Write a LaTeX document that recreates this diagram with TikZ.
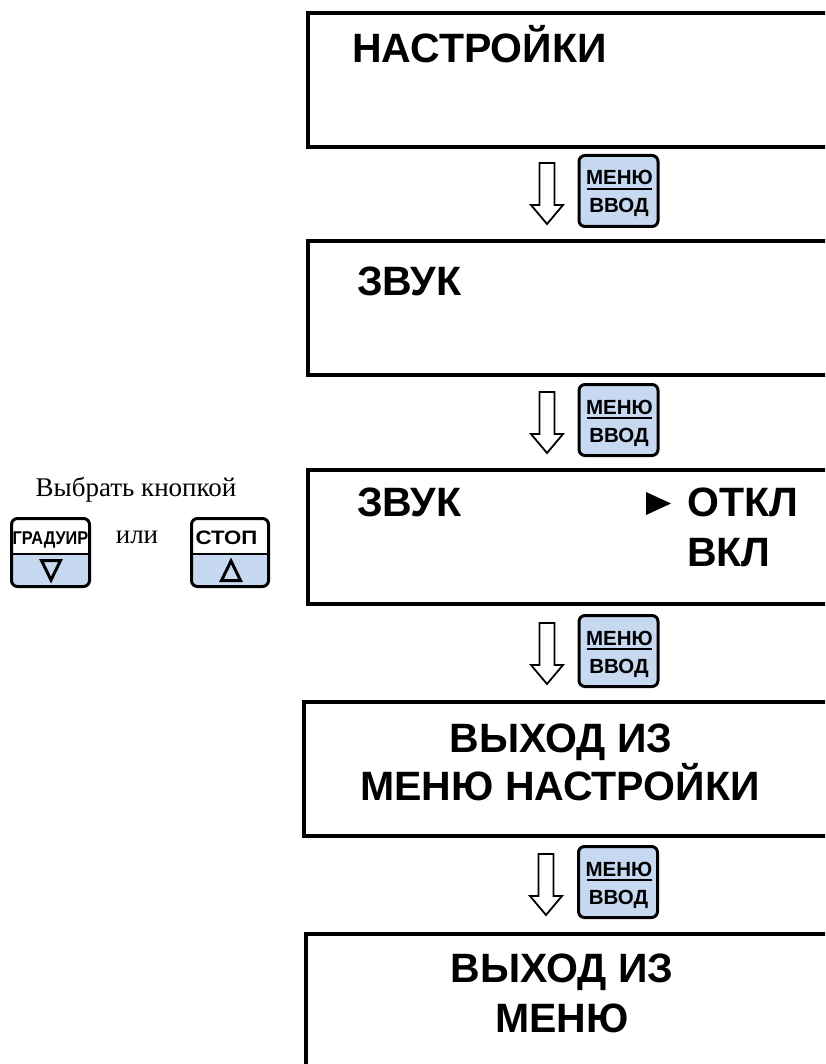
\documentclass[tikz,border=0pt]{standalone}
\usepackage{fontspec}
\setmainfont{Liberation Serif}
\setsansfont{Liberation Sans}
\definecolor{keyblue}{RGB}{198,217,241}
\tikzset{
  screen/.style={draw=black, line width=4pt, fill=white, anchor=north west, minimum width=560pt, inner sep=0pt},
  bigtext/.style={font=\fontsize{41}{48}\selectfont\sffamily\bfseries, inner sep=0pt},
  serif/.style={font=\fontsize{27}{32}\selectfont\rmfamily, inner sep=0pt},
  keytext/.style={font=\fontsize{20.5}{24}\selectfont\sffamily\bfseries, inner sep=0pt},
  smallkeytext/.style={font=\fontsize{18.5}{22}\selectfont\sffamily\bfseries, inner sep=0pt},
  keyframe/.style={draw=black, line width=3pt, rounded corners=6pt},
  hollow/.style={draw=black, line width=1.8pt, fill=white, line join=miter},
  menukey/.pic={
    \node[keyframe, fill=keyblue, minimum width=79pt, minimum height=71pt, inner sep=0pt] (-k) at (0,0) {};
    \node[keytext, anchor=base] (-a) at (1,-6) {МЕНЮ};
    \draw[line width=2.5pt] (-31.5,-2) -- (33.5,-2);
    \node[keytext, anchor=base] (-b) at (0.5,22) {ВВОД};
  },
  downarrow/.pic={
    \draw[hollow] (-7.5,0) -- (7.5,0) -- (7.5,42) -- (16,42) -- (0,61) -- (-16,42) -- (-7.5,42) -- cycle;
  }
}
\begin{document}
\begin{tikzpicture}[x=1pt,y=-1pt]
\clip (0,0) rectangle (825,1064);
\fill[white] (0,0) rectangle (825,1064);

% screens
\node[screen, minimum height=134pt] (s1) at (306,11) {};
\node[screen, minimum height=134pt] (s2) at (306,239) {};
\node[screen, minimum height=134pt] (s3) at (306,468) {};
\node[screen, minimum height=134pt] (s4) at (302,700) {};
\node[screen, minimum height=160pt] (s5) at (304,932) {};

% screen texts
\node[bigtext, anchor=base west] (t1) at (352,63) {НАСТРОЙКИ};
\node[bigtext, anchor=base west] (t2) at (357,295) {ЗВУК};
\node[bigtext, anchor=base west] (t3) at (357,516) {ЗВУК};
\fill (646,492) -- (671,503.5) -- (646,515) -- cycle;
\node[bigtext, anchor=base west] (t3b) at (687,516) {ОТКЛ};
\node[bigtext, anchor=base west] (t3c) at (687,566) {ВКЛ};
\node[bigtext, anchor=base] (t4a) at (561,752) {ВЫХОД ИЗ};
\node[bigtext, anchor=base] (t4b) at (560,800) {МЕНЮ НАСТРОЙКИ};
\node[bigtext, anchor=base] (t5a) at (562,982) {ВЫХОД ИЗ};
\node[bigtext, anchor=base] (t5b) at (562,1032) {МЕНЮ};

% transitions
\pic (a1) at (547,163) {downarrow};
\pic (k1) at (618.5,191) {menukey};
\pic (a2) at (547,392) {downarrow};
\pic (k2) at (618.5,420) {menukey};
\pic (a3) at (547,623) {downarrow};
\pic (k3) at (618.5,651) {menukey};
\pic (a4) at (546,854) {downarrow};
\pic (k4) at (618,882) {menukey};

% left side
\node[serif, anchor=base] (choose) at (136,496) {Выбрать кнопкой};
\node[serif, anchor=base] (or) at (137,543) {или};

% ГРАДУИР key
\fill[white, rounded corners=6pt] (11.5,518.5) rectangle (89.5,586.5);
\fill[keyblue, rounded corners=6pt] (11.5,554) rectangle (89.5,586.5);
\fill[keyblue] (11.5,554) rectangle (89.5,566);
\draw[line width=2.5pt] (11.5,554) -- (89.5,554);
\node[keyframe, minimum width=78pt, minimum height=68pt, inner sep=0pt] (kg) at (50.5,552.5) {};
\node[smallkeytext, anchor=base] (kgt) at (50.5,544) {\scalebox{0.88}[1]{ГРАДУИР}};
\draw[line width=3pt, line join=miter] (41.5,560.5) -- (60.5,560.5) -- (51,580) -- cycle;

% СТОП key
\fill[white, rounded corners=6pt] (191.5,518.5) rectangle (268.5,586.5);
\fill[keyblue, rounded corners=6pt] (191.5,554) rectangle (268.5,586.5);
\fill[keyblue] (191.5,554) rectangle (268.5,566);
\draw[line width=2.5pt] (191.5,554) -- (268.5,554);
\node[keyframe, minimum width=77pt, minimum height=68pt, inner sep=0pt] (ks) at (230,552.5) {};
\node[smallkeytext, anchor=base] (kst) at (226.5,544.5) {\scalebox{1.2}[1.05]{СТОП}};
\draw[line width=3pt, line join=miter] (231,561) -- (240.5,580.5) -- (221.5,580.5) -- cycle;
\end{tikzpicture}
\end{document}
